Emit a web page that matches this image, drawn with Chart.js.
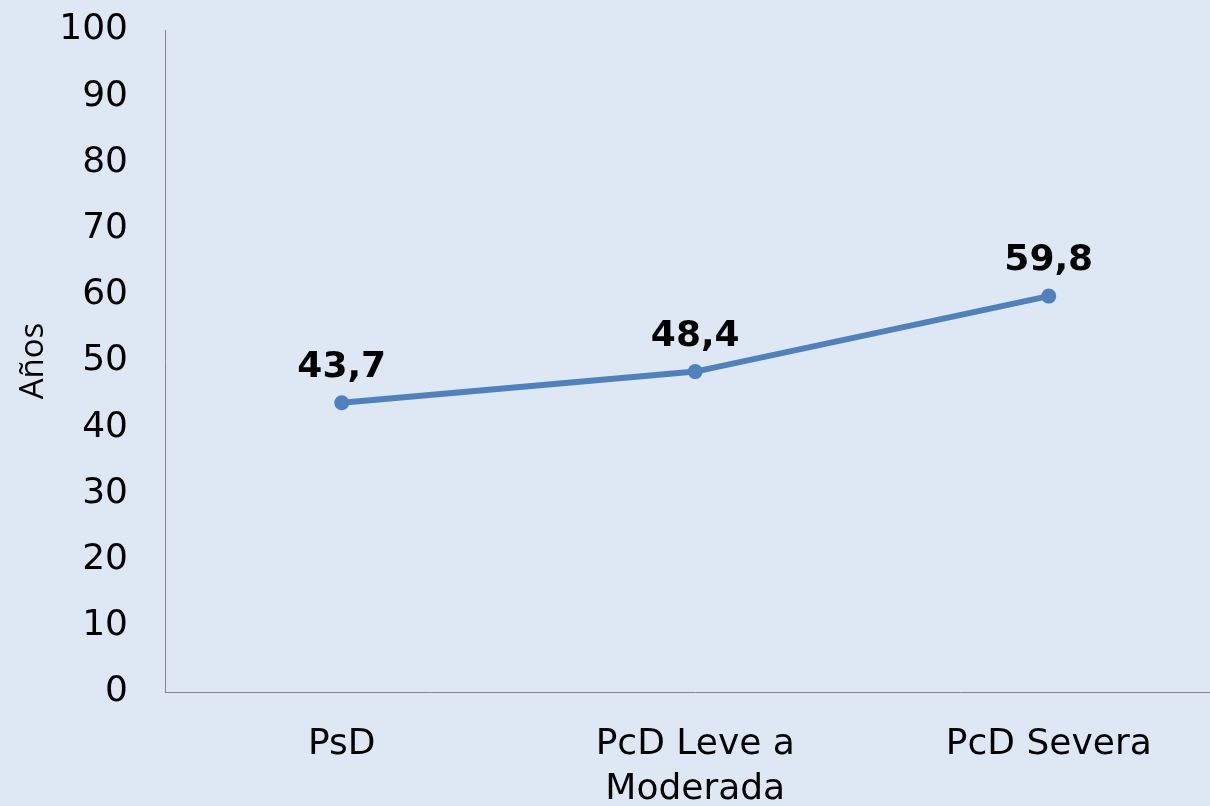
<!DOCTYPE html>
<html>
<head>
<meta charset="utf-8">
<script src="https://cdn.jsdelivr.net/npm/chart.js@4/dist/chart.umd.min.js"></script>
<style>
  html, body { margin: 0; padding: 0; background: #DEE8F4; overflow: hidden; }
  #wrap { width: 1210px; height: 806px; overflow: hidden; position: relative; }
  #c { position: absolute; left: 0; top: 0; }
</style>
</head>
<body>
<div id="wrap"><canvas id="c" width="1233" height="806"></canvas></div>
<script>
const categories = ["PsD", ["PcD Leve a", "Moderada"], "PcD Severa"];
const values = [43.7, 48.4, 59.8];
const valueLabels = ["43,7", "48,4", "59,8"];
const yTicks = [0, 10, 20, 30, 40, 50, 60, 70, 80, 90, 100];
const yTitle = "Años";

const valueLabelPlugin = {
  id: 'valueLabels',
  afterDatasetsDraw(chart) {
    const ctx = chart.ctx;
    const meta = chart.getDatasetMeta(0);
    ctx.save();
    ctx.font = 'bold 36px "DejaVu Sans"';
    ctx.fillStyle = '#000000';
    ctx.textAlign = 'center';
    ctx.textBaseline = 'alphabetic';
    meta.data.forEach((pt, i) => {
      ctx.fillText(valueLabels[i], pt.x, pt.y - 26);
    });
    ctx.restore();
  }
};

new Chart(document.getElementById('c'), {
  type: 'line',
  data: {
    labels: categories,
    datasets: [{
      data: values,
      borderColor: '#4F81BD',
      backgroundColor: '#4F81BD',
      borderWidth: 6,
      pointRadius: 7.5,
      pointHoverRadius: 7.5,
      pointBackgroundColor: '#4F81BD',
      pointBorderWidth: 0,
      tension: 0,
      fill: false
    }]
  },
  options: {
    responsive: false,
    animation: false,
    devicePixelRatio: 1,
    layout: { padding: { top: 30, left: 0, right: 0, bottom: 0 } },
    plugins: { legend: { display: false }, tooltip: { enabled: false } },
    scales: {
      x: {
        type: 'category',
        offset: true,
        grid: { display: false, drawTicks: false },
        border: { display: true, color: '#868686', width: 1 },
        ticks: {
          color: '#000000',
          font: { family: '"DejaVu Sans"', size: 36, lineHeight: 1.25 },
          padding: 30,
          maxRotation: 0,
          autoSkip: false
        },
        afterFit(scale) { scale.height = 114; scale.paddingLeft = 0; scale.paddingRight = 0; }
      },
      y: {
        min: 0,
        max: 100,
        afterBuildTicks(scale) { scale.ticks = yTicks.map(v => ({ value: v })); },
        grid: { display: false, drawTicks: false },
        border: { display: true, color: '#868686', width: 1 },
        ticks: {
          color: '#000000',
          font: { family: '"DejaVu Sans"', size: 36 },
          padding: 37
        },
        title: {
          display: true,
          text: yTitle,
          color: '#000000',
          font: { family: '"Open Sans"', size: 33 },
          padding: { top: 14, bottom: 0 }
        },
        afterFit(scale) { scale.width = 165; scale.paddingTop = 0; scale.paddingBottom = 0; }
      }
    }
  },
  plugins: [valueLabelPlugin]
});
</script>
</body>
</html>
